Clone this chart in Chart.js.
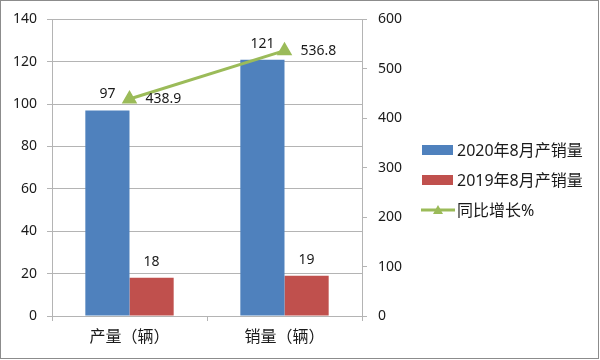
<!DOCTYPE html>
<html>
<head>
<meta charset="utf-8">
<script src="https://cdn.jsdelivr.net/npm/chart.js@4"></script>
<style>
  html, body { margin: 0; padding: 0; background: #fff; }
  #wrap { width: 600px; height: 360px; }
</style>
</head>
<body>
<div id="wrap"><canvas id="chart" width="600" height="360"></canvas></div>
<script>
// 2020 vs 2019 August production / sales, with YoY growth on the right axis
const categories = ["产量（辆）", "销量（辆）"];
const seriesNames = ["2020年8月产销量", "2019年8月产销量", "同比增长%"];
const units2020 = [97, 121];
const units2019 = [18, 19];
const growthPct = [438.9, 536.8];
const leftTicks = [0, 20, 40, 60, 80, 100, 120, 140];
const rightTicks = [0, 100, 200, 300, 400, 500, 600];

const FONT = '"Noto Sans", "Noto Sans CJK SC", sans-serif';
const BLUE = "#4F81BD";
const RED = "#C0504D";
const GREEN = "#9BBB59";
const GRID = "#b4b4b4";
const TEXT = "#1a1a1a";

// frame around the whole picture
const framePlugin = {
  id: "frame",
  beforeDraw(chart) {
    const c = chart.ctx;
    c.save();
    c.fillStyle = "#fff";
    c.fillRect(0, 0, chart.width, chart.height);
    c.strokeStyle = "#8c8c8c";
    c.lineWidth = 1;
    c.strokeRect(0.5, 0.5, chart.width - 2, chart.height - 2);
    c.restore();
  }
};

// value labels: above bars, right of line points
const valueLabels = {
  id: "valueLabels",
  afterDatasetsDraw(chart) {
    const c = chart.ctx;
    c.save();
    c.font = "14px " + FONT;
    c.fillStyle = TEXT;
    c.textBaseline = "middle";
    chart.data.datasets.forEach((ds, i) => {
      const meta = chart.getDatasetMeta(i);
      meta.data.forEach((el, j) => {
        const v = ds.data[j];
        if (ds.type === "line") {
          c.textAlign = "left";
          c.fillText(v.toFixed(1), el.x + 16, el.y);
        } else {
          c.textAlign = "center";
          c.fillText(String(v), el.x, el.y - 16);
        }
      });
    });
    c.restore();
  }
};

// legend drawn to the right of the plot
const sideLegend = {
  id: "sideLegend",
  afterDraw(chart) {
    const c = chart.ctx;
    const x = 422, rows = [150, 180, 210];
    c.save();
    c.font = "16px " + FONT;
    c.fillStyle = TEXT;
    c.textBaseline = "middle";
    c.textAlign = "left";
    chart.data.datasets.forEach((ds, i) => {
      const y = rows[i];
      if (ds.type === "line") {
        c.strokeStyle = ds.borderColor;
        c.lineWidth = 3;
        c.beginPath();
        c.moveTo(x - 1, y);
        c.lineTo(x + 33, y);
        c.stroke();
        c.fillStyle = ds.borderColor;
        c.beginPath();
        c.moveTo(x + 16, y - 5);
        c.lineTo(x + 21, y + 4);
        c.lineTo(x + 11, y + 4);
        c.closePath();
        c.fill();
      } else {
        c.fillStyle = ds.backgroundColor;
        c.fillRect(x, y - 5, 31, 10);
      }
      c.fillStyle = TEXT;
      c.fillText(ds.label, x + 35, y + 1);
    });
    c.restore();
  }
};

new Chart(document.getElementById("chart"), {
  data: {
    labels: categories,
    datasets: [
      {
        type: "bar", label: seriesNames[0], data: units2020, yAxisID: "y",
        backgroundColor: BLUE, categoryPercentage: 0.57, barPercentage: 1.0, order: 1
      },
      {
        type: "bar", label: seriesNames[1], data: units2019, yAxisID: "y",
        backgroundColor: RED, categoryPercentage: 0.57, barPercentage: 1.0, order: 2
      },
      {
        type: "line", label: seriesNames[2], data: growthPct, yAxisID: "y1",
        borderColor: GREEN, backgroundColor: GREEN, borderWidth: 3,
        pointStyle: "triangle", pointRadius: 6, pointBackgroundColor: GREEN,
        pointBorderColor: GREEN, tension: 0, order: 0
      }
    ]
  },
  options: {
    responsive: false,
    animation: false,
    devicePixelRatio: 1,
    layout: { padding: { left: 0, right: 190, top: 19, bottom: 0 } },
    plugins: { legend: { display: false }, tooltip: { enabled: false } },
    scales: {
      x: {
        grid: { offset: true, drawOnChartArea: false, drawTicks: true, tickLength: 5, color: GRID },
        border: { color: GRID },
        ticks: { font: { family: FONT, size: 16 }, color: TEXT, padding: 7 },
        afterFit: (s) => { s.height = 44; }
      },
      y: {
        position: "left",
        min: leftTicks[0], max: leftTicks[leftTicks.length - 1],
        ticks: { stepSize: leftTicks[1] - leftTicks[0], font: { family: FONT, size: 14 }, color: TEXT, padding: 10 },
        grid: { color: GRID, tickLength: 5 },
        border: { color: GRID },
        afterFit: (s) => { s.width = 52; }
      },
      y1: {
        position: "right",
        min: rightTicks[0], max: rightTicks[rightTicks.length - 1],
        ticks: { stepSize: rightTicks[1] - rightTicks[0], font: { family: FONT, size: 14 }, color: TEXT, padding: 11 },
        grid: { drawOnChartArea: false, color: GRID, tickLength: 5 },
        border: { color: GRID },
        afterFit: (s) => { s.width = 48; }
      }
    }
  },
  plugins: [framePlugin, valueLabels, sideLegend]
});
</script>
</body>
</html>
